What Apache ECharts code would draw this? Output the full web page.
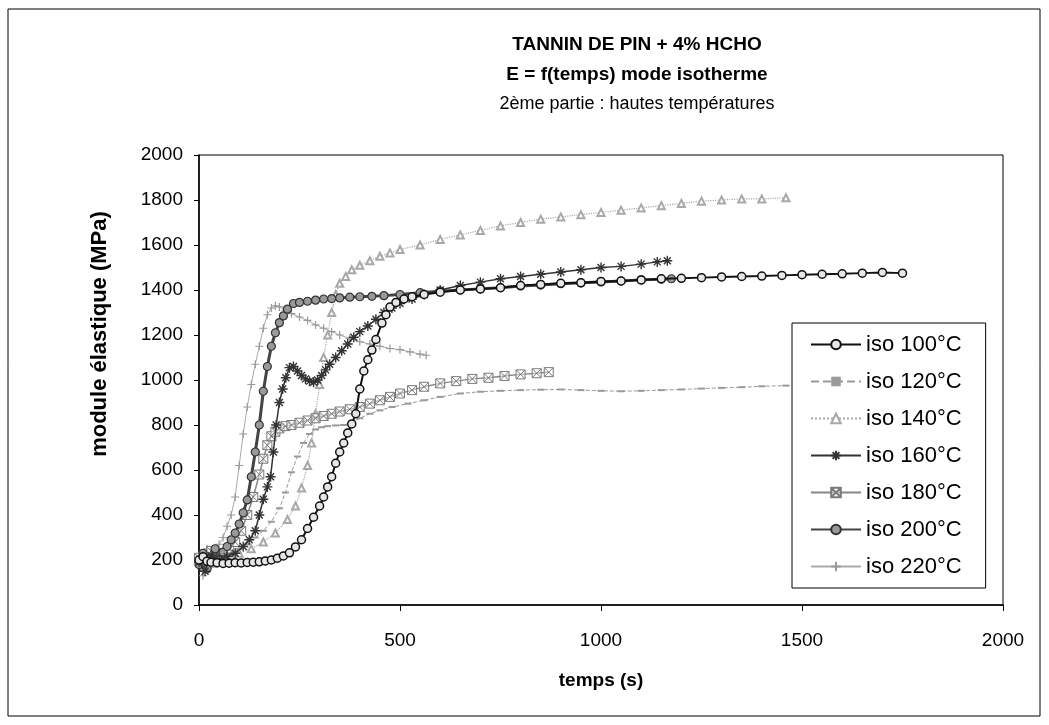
<!DOCTYPE html>
<html>
<head>
<meta charset="utf-8">
<script src="https://cdn.jsdelivr.net/npm/echarts@6/dist/echarts.min.js"></script>
<style>
html,body{margin:0;padding:0;background:#fff;}
#c{width:1049px;height:725px;}
</style>
</head>
<body>
<div id="c"></div>
<script>
// ---- data ----
const seriesNames = ['iso 100°C','iso 120°C','iso 140°C','iso 160°C','iso 180°C','iso 200°C','iso 220°C'];
const xTicks = [0, 500, 1000, 1500, 2000];
const yTicks = [0, 200, 400, 600, 800, 1000, 1200, 1400, 1600, 1800, 2000];

const t100 = [0,10,20,30,45,60,75,90,105,120,135,150,165,180,195,210,225,240,255,270,285,300,310,320,330,340,350,360,370,380,390,400,410,420,430,440,455,465,475,490,510,530,560,600,650,700,750,800,850,900,950,1000,1050,1100,1150,1200,1250,1300,1350,1400,1450,1500,1550,1600,1650,1700,1750];
const e100 = [200,215,195,190,188,185,186,188,187,189,190,192,196,200,208,218,232,258,290,340,390,440,480,525,570,630,680,720,765,805,850,960,1040,1090,1133,1180,1253,1290,1324,1345,1360,1370,1380,1390,1400,1405,1410,1420,1425,1430,1432,1438,1440,1445,1450,1452,1455,1458,1460,1462,1465,1468,1470,1472,1475,1478,1475];

const t120 = [0,20,40,60,80,100,120,140,160,180,200,215,230,245,260,275,290,305,320,340,360,380,400,425,450,480,520,560,600,650,700,750,800,850,900,950,1000,1050,1100,1150,1200,1250,1300,1350,1400,1460];
const e120 = [190,230,170,210,230,250,270,300,330,370,430,500,590,660,720,760,780,790,795,798,800,810,830,850,865,880,895,910,925,940,948,952,955,957,958,955,952,950,952,955,958,962,965,968,972,975];

const t140 = [0,20,40,60,80,100,130,160,190,220,240,255,270,280,290,300,310,320,330,340,350,365,380,400,425,450,475,500,550,600,650,700,750,800,850,900,950,1000,1050,1100,1150,1200,1250,1300,1350,1400,1460];
const e140 = [210,180,240,200,220,230,250,280,320,380,440,520,620,720,850,980,1100,1200,1300,1380,1430,1460,1490,1510,1530,1550,1565,1580,1600,1625,1645,1665,1685,1700,1715,1725,1735,1745,1755,1765,1775,1785,1795,1800,1805,1805,1810];

const t160 = [0,15,30,50,70,90,110,125,140,150,160,170,178,185,192,200,208,216,225,235,245,255,265,275,285,295,305,315,325,340,355,370,385,400,420,440,460,480,500,530,560,600,650,700,750,800,850,900,950,1000,1050,1100,1140,1165];
const e160 = [190,150,220,200,215,230,260,290,330,400,470,525,570,680,800,900,960,1010,1055,1060,1040,1020,1005,995,990,1000,1020,1045,1070,1100,1130,1160,1190,1215,1240,1270,1300,1320,1340,1360,1380,1400,1420,1435,1450,1460,1470,1480,1490,1500,1505,1515,1525,1530];

const t180 = [0,15,30,45,60,75,90,105,120,135,150,160,170,180,190,200,215,230,250,270,290,310,330,350,375,400,425,450,475,500,530,560,600,640,680,720,760,800,840,870];
const e180 = [210,170,240,200,230,250,280,330,400,480,580,650,710,750,770,785,795,800,810,820,830,840,850,860,870,880,895,910,925,940,955,970,985,995,1005,1010,1018,1025,1030,1035];

const t200 = [0,10,20,30,40,50,60,70,80,90,100,110,120,130,140,150,160,170,180,190,200,210,220,235,250,270,290,310,330,350,375,400,430,460,500,550,600,650,700,750,800,850,900,950,1000,1050,1100,1150,1175];
const e200 = [180,230,160,210,250,200,235,260,290,320,360,410,467,570,680,800,950,1060,1150,1210,1255,1285,1315,1340,1345,1350,1355,1360,1362,1365,1368,1370,1372,1375,1380,1388,1395,1400,1405,1410,1418,1422,1428,1432,1436,1440,1445,1448,1450];

const t220 = [0,10,20,30,40,50,60,70,80,90,100,110,120,130,140,150,160,170,180,190,200,215,230,250,270,290,310,330,350,375,400,425,450,475,500,525,550,565];
const e220 = [220,130,250,180,240,270,300,350,400,480,620,760,880,980,1070,1150,1230,1290,1320,1330,1325,1310,1295,1280,1265,1245,1230,1215,1200,1185,1170,1160,1150,1140,1135,1125,1115,1110];

// ---- chart ----
const FONT = '"Liberation Sans", Arial, sans-serif';
const pairs = (t, e) => t.map((x, i) => [x, e[i]]);

const asterisk = 'path://M5 0V10M0 5H10M1.5 1.5L8.5 8.5M8.5 1.5L1.5 8.5';
const boxX = 'path://M0 0H10V10H0ZM0 0L10 10M10 0L0 10';
const plus = 'path://M5 0V10M0 5H10';

const styles = [
  {t:t100, e:e100, line:{color:'#111', width:2}, symbol:'circle', size:8, item:{color:'#e6e6e6', borderColor:'#111', borderWidth:1.5}, z:9},
  {t:t120, e:e120, line:{color:'#9a9a9a', width:1, type:'dashed'}, symbol:'rect', size:[7,2], item:{color:'#9a9a9a'}, z:3},
  {t:t140, e:e140, line:{color:'#a8a8a8', width:1.2, type:'dotted'}, symbol:'emptyTriangle', size:7, item:{color:'#a8a8a8', borderColor:'#a8a8a8', borderWidth:1}, z:4},
  {t:t160, e:e160, line:{color:'#333', width:1.5}, symbol:asterisk, size:10, item:{color:'rgba(0,0,0,0)', borderColor:'#333', borderWidth:1.4}, z:7},
  {t:t180, e:e180, line:{color:'#888', width:1.5}, symbol:boxX, size:9, item:{color:'rgba(255,255,255,0.4)', borderColor:'#7a7a7a', borderWidth:1}, z:5},
  {t:t200, e:e200, line:{color:'#444', width:3}, symbol:'circle', size:8, item:{color:'#999', borderColor:'#333', borderWidth:1.2}, z:6},
  {t:t220, e:e220, line:{color:'#aaa', width:1}, symbol:plus, size:8, item:{color:'rgba(0,0,0,0)', borderColor:'#999', borderWidth:1.2}, z:2}
];

const series = styles.map((s, i) => ({
  name: seriesNames[i],
  type: 'line',
  data: pairs(s.t, s.e),
  symbol: s.symbol,
  symbolSize: s.size,
  showSymbol: true,
  showAllSymbol: true,
  lineStyle: s.line,
  itemStyle: s.item,
  z: s.z,
  animation: false
}));

const chart = echarts.init(document.getElementById('c'), null, {renderer: 'canvas'});
chart.setOption({
  animation: false,
  backgroundColor: '#fff',
  textStyle: {fontFamily: FONT},
  grid: {left: 199, right: 46, top: 155, bottom: 120, containLabel: false,
         show: true, borderColor: '#000', borderWidth: 1, backgroundColor: 'transparent'},
  xAxis: {
    type: 'value', min: xTicks[0], max: xTicks[xTicks.length-1], interval: 500,
    name: 'temps (s)', nameLocation: 'middle', nameGap: 66,
    nameTextStyle: {fontFamily: FONT, fontSize: 19, fontWeight: 'bold', color: '#000'},
    axisLine: {show: true, lineStyle: {color: '#000', width: 1.5}},
    axisTick: {show: true, length: 6, lineStyle: {color: '#000'}},
    axisLabel: {margin: 26, fontFamily: FONT, fontSize: 19, color: '#000', formatter: v => String(v)},
    splitLine: {show: false}
  },
  yAxis: {
    type: 'value', min: yTicks[0], max: yTicks[yTicks.length-1], interval: 200,
    axisLine: {show: true, lineStyle: {color: '#000', width: 1.5}},
    axisTick: {show: true, length: 5, lineStyle: {color: '#000'}},
    axisLabel: {margin: 16, fontFamily: FONT, fontSize: 19, color: '#000', formatter: v => String(v)},
    splitLine: {show: false}
  },
  legend: {
    data: seriesNames,
    orient: 'vertical',
    left: 792, top: 323,
    padding: [10, 24, 10, 18],
    itemWidth: 50, itemHeight: 12, itemGap: 14,
    backgroundColor: '#fff', borderColor: '#000', borderWidth: 1,
    textStyle: {fontFamily: FONT, fontSize: 22, color: '#000', lineHeight: 23},
    z: 20
  },
  graphic: [
    {type: 'rect', shape: {x: 8, y: 9, width: 1032, height: 707}, style: {fill: 'none', stroke: '#000', lineWidth: 1}, silent: true},
    {type: 'text', x: 637, y: 45, style: {text: 'TANNIN DE PIN + 4% HCHO', font: 'bold 19px ' + FONT, fill: '#000', textAlign: 'center', textVerticalAlign: 'middle'}},
    {type: 'text', x: 637, y: 75, style: {text: 'E = f(temps) mode isotherme', font: 'bold 19px ' + FONT, fill: '#000', textAlign: 'center', textVerticalAlign: 'middle'}},
    {type: 'text', x: 637, y: 104, style: {text: '2ème partie : hautes températures', font: '18px ' + FONT, fill: '#000', textAlign: 'center', textVerticalAlign: 'middle'}},
    {type: 'text', x: 100, y: 334, rotation: Math.PI / 2, style: {text: 'module élastique (MPa)', font: 'bold 22px ' + FONT, fill: '#000', textAlign: 'center', textVerticalAlign: 'middle'}}
  ],
  series: series
});
</script>
</body>
</html>
